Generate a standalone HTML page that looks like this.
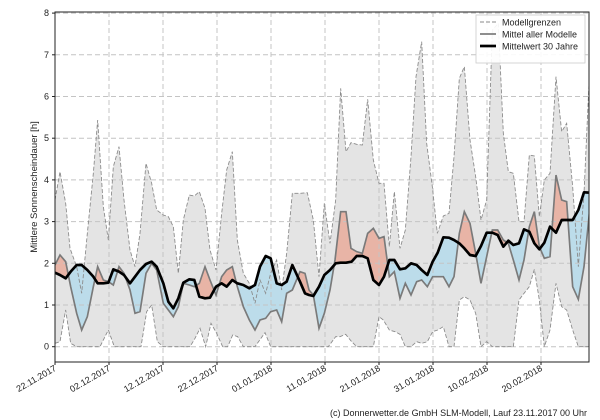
<!DOCTYPE html>
<html><head><meta charset="utf-8"><style>
html,body{margin:0;padding:0;background:#fff;width:600px;height:420px;overflow:hidden}
svg{font-family:"Liberation Sans","DejaVu Sans",sans-serif}
</style></head><body>
<svg id="s" width="600" height="420" viewBox="0 0 600 420" xmlns="http://www.w3.org/2000/svg">
<defs>
<clipPath id="plot"><rect x="55" y="12" width="534" height="350"/></clipPath>
<clipPath id="above"><path id="ca"/></clipPath>
<clipPath id="below"><path id="cb"/></clipPath>
</defs>
<g clip-path="url(#plot)">
<g transform="scale(0.3333333)">
<path id="gray" fill="#e4e4e4" stroke="none"/>
<path id="diffR" fill="#e8b4a6" clip-path="url(#above)"/>
<path id="diffB" fill="#bcdcea" clip-path="url(#below)"/>
</g>
<g id="grid" stroke="#c4c4c4" stroke-width="1" stroke-dasharray="5,3"></g>
<g transform="scale(0.3333333)">
<path id="up" fill="none" stroke="#8a8a8a" stroke-width="2.6" stroke-dasharray="12,6"/>
<path id="lo" fill="none" stroke="#8a8a8a" stroke-width="2.6" stroke-dasharray="12,6"/>
<path id="mm" fill="none" stroke="#7a7a7a" stroke-width="5"/>
<path id="bb" fill="none" stroke="#000" stroke-width="8" stroke-linejoin="round"/>
</g>
</g>
<rect x="55" y="12" width="534" height="350" fill="none" stroke="#222" stroke-width="1"/>
<g id="ticks" font-size="9" fill="#222"></g>
<text transform="translate(37,187) rotate(-90)" text-anchor="middle" font-size="9.5" fill="#222">Mittlere Sonnenscheindauer [h]</text>
<g>
<rect x="476" y="15" width="109" height="48" fill="#fff" fill-opacity="0.9" stroke="#ccc" stroke-width="0.8"/>
<line x1="480" y1="22" x2="496" y2="22" stroke="#8a8a8a" stroke-width="1" stroke-dasharray="4,2"/>
<line x1="480" y1="34" x2="496" y2="34" stroke="#7a7a7a" stroke-width="1.7"/>
<line x1="480" y1="46" x2="496" y2="46" stroke="#000" stroke-width="2.7"/>
<text x="502" y="25.5" font-size="9" fill="#222">Modellgrenzen</text>
<text x="502" y="37.5" font-size="9" fill="#222">Mittel aller Modelle</text>
<text x="502" y="49.5" font-size="9" fill="#222">Mittelwert 30 Jahre</text>
</g>
<text x="587" y="416" text-anchor="end" font-size="9" fill="#222">(c) Donnerwetter.de GmbH SLM-Modell, Lauf 23.11.2017 00 Uhr</text>
</svg>
<script>
function P(s){return s.trim().split(/\s+/).map(p=>p.split(',').map(Number));}
var U=P("165,600 180,515 197,610 210,745 230,800 245,880 262,700 280,520 293,360 310,620 325,720 340,500 357,440 372,600 390,750 405,800 420,700 438,490 455,550 470,630 490,645 505,650 520,680 535,820 550,660 568,585 583,588 598,575 615,625 630,750 648,810 665,640 680,510 697,455 712,720 730,820 748,850 765,910 780,840 797,880 812,820 830,780 845,870 860,760 877,580 900,580 922,578 940,660 957,830 973,610 990,730 1007,600 1022,265 1038,455 1053,428 1070,433 1087,435 1103,298 1120,480 1137,550 1152,550 1168,740 1183,575 1200,745 1216,690 1233,470 1248,230 1265,125 1280,430 1297,560 1312,700 1330,648 1347,640 1362,470 1378,235 1393,200 1410,420 1427,530 1443,660 1460,600 1477,90 1495,70 1510,400 1525,515 1540,520 1557,665 1572,665 1588,465 1603,468 1618,650 1633,540 1650,520 1668,230 1685,395 1700,370 1718,560 1735,800 1752,580 1768,230");
var L=P("165,1030 180,1025 197,930 212,1030 230,1040 300,1040 325,990 343,1040 423,1040 440,935 455,915 472,1025 490,1040 570,1040 585,1015 600,985 617,1040 633,970 650,1000 668,1040 683,1040 698,1005 713,1010 730,1040 765,1040 795,998 812,1040 985,1040 1007,1010 1020,1010 1037,1003 1055,1025 1070,1040 1120,1040 1137,950 1150,960 1168,990 1185,995 1200,1003 1216,1040 1233,1040 1250,1025 1265,1030 1282,1025 1298,995 1313,990 1330,980 1347,1040 1362,1040 1378,900 1393,890 1410,900 1427,940 1443,1040 1460,1025 1477,1040 1540,1040 1557,900 1572,880 1588,860 1603,808 1618,900 1633,1040 1650,990 1668,850 1685,920 1700,930 1718,990 1735,1040 1768,1040");
var M=P("165,795 180,765 197,785 212,860 230,940 245,990 262,950 280,860 293,800 310,840 325,845 340,855 357,800 372,820 390,870 405,940 420,935 438,820 455,790 470,810 490,910 505,930 520,950 535,920 550,850 568,855 583,860 598,850 615,800 630,840 648,885 665,830 680,810 697,800 712,860 730,920 748,960 765,990 780,960 797,955 812,935 830,930 845,965 860,880 877,870 900,815 915,820 927,870 940,885 957,985 973,940 990,870 1005,780 1022,635 1038,635 1053,745 1070,755 1087,760 1103,700 1120,685 1137,715 1152,710 1168,830 1183,815 1200,895 1216,850 1233,885 1250,845 1265,840 1282,860 1298,830 1313,830 1330,830 1347,860 1362,830 1378,700 1393,635 1410,670 1427,760 1443,850 1460,770 1477,690 1493,690 1510,720 1525,730 1540,780 1557,840 1572,780 1588,680 1603,635 1618,740 1633,775 1650,770 1668,525 1685,600 1700,605 1718,860 1735,898 1752,800 1768,640");
var B=P("165,818 180,825 197,835 212,815 230,795 245,795 262,810 280,830 293,850 310,850 325,848 340,808 357,815 372,825 390,850 405,830 420,810 438,792 455,785 470,800 490,850 505,905 520,925 535,895 550,848 568,838 583,840 598,890 615,895 630,893 648,860 665,850 680,860 697,840 712,850 730,855 748,865 765,855 780,800 797,768 812,775 830,850 845,855 860,845 877,795 900,845 915,880 927,885 940,888 957,860 973,825 990,810 1007,790 1022,788 1038,788 1055,785 1070,768 1087,768 1103,775 1120,840 1137,855 1152,830 1168,780 1183,780 1200,808 1216,805 1233,790 1250,795 1265,810 1282,825 1298,785 1313,758 1330,712 1347,713 1362,720 1378,730 1393,745 1410,765 1427,768 1443,738 1460,698 1477,698 1493,705 1510,740 1525,722 1540,735 1557,730 1572,688 1588,695 1603,730 1618,748 1633,728 1650,680 1668,698 1685,660 1700,660 1718,660 1735,630 1752,577 1768,578");
function d(a){return a.map((p,i)=>(i?'L':'M')+p[0]+','+p[1]).join(' ');}
function rv(a){return a.slice().reverse();}
function g(id){return document.getElementById(id);}
g('gray').setAttribute('d',d(U.concat(rv(L)))+'Z');
var diff=d(M.concat(rv(B)))+'Z';
g('diffR').setAttribute('d',diff);g('diffB').setAttribute('d',diff);
g('ca').setAttribute('d',d([[165,0]].concat(B,[[1768,0]]))+'Z');
g('cb').setAttribute('d',d([[165,1200]].concat(B,[[1768,1200]]))+'Z');
g('up').setAttribute('d',d(U));g('lo').setAttribute('d',d(L));
g('mm').setAttribute('d',d(M));g('bb').setAttribute('d',d(B));
var ns='http://www.w3.org/2000/svg',gr=g('grid'),tk=g('ticks');
function el(p,t,a,txt){var e=document.createElementNS(ns,t);for(var k in a)e.setAttribute(k,a[k]);if(txt)e.textContent=txt;p.appendChild(e);return e;}
for(var v=0;v<=8;v++){var y=346.7-v*41.7;el(gr,'line',{x1:55,x2:589,y1:y,y2:y});
el(tk,'line',{x1:52,x2:55,y1:y,y2:y,stroke:'#222'});el(tk,'text',{x:49,y:y+3,'text-anchor':'end'},String(v));}
var dates=['22.11.2017','02.12.2017','12.12.2017','22.12.2017','01.01.2018','11.01.2018','21.01.2018','31.01.2018','10.02.2018','20.02.2018'];
dates.forEach(function(t,i){var x=55+i*54;el(gr,'line',{x1:x,x2:x,y1:12,y2:362});
el(tk,'line',{x1:x,x2:x,y1:362,y2:365,stroke:'#222'});
el(tk,'text',{transform:'translate('+(x+2)+',370) rotate(-30)','text-anchor':'end'},t);});
</script>
</body></html>
